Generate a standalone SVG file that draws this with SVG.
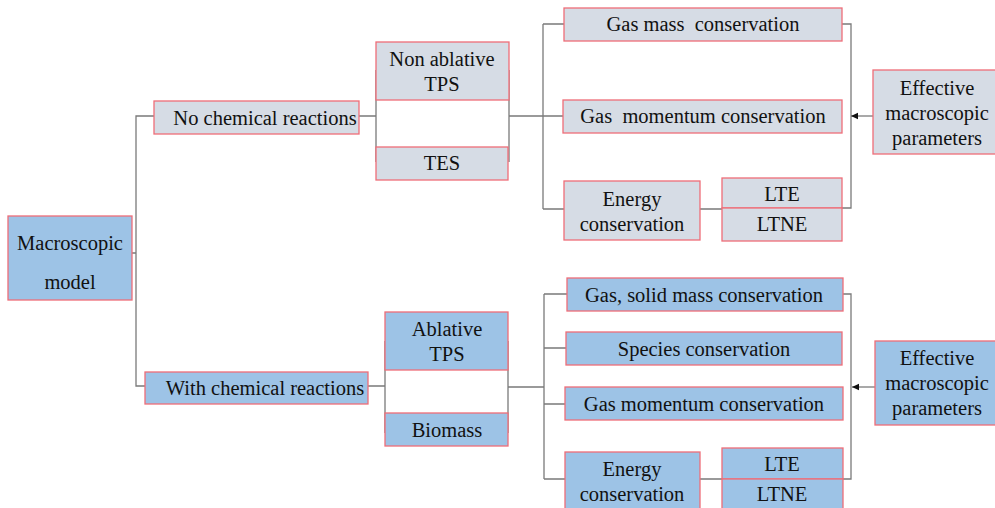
<svg xmlns="http://www.w3.org/2000/svg" width="995" height="508" viewBox="0 0 995 508" font-family="Liberation Serif, Times New Roman, serif">
<defs>
<style>
.g rect{fill:#d6dce5;stroke:#ef6d78;stroke-width:1.3}
.b rect{fill:#9dc3e6;stroke:#ef6d78;stroke-width:1.3}
text{font-size:20.5px;fill:#111;text-anchor:middle}
.c path{fill:none;stroke:#7a7a7a;stroke-width:1.3}
</style>
<marker id="ah" markerWidth="8" markerHeight="8" refX="7" refY="4" orient="auto" markerUnits="userSpaceOnUse">
<path d="M0,0.8 L7,4 L0,7.2 z" fill="#111"/>
</marker>
</defs>
<rect width="995" height="508" fill="#fff"/>
<g class="c">
<path d="M132,253 H136 V116 H154 M136,253 V386 H145"/>
<path d="M359,116 H376 M376,70 V162 M509,70 V162 M509,116 H543 M543,24 V209 M543,24 H564 M543,116 H563 M543,209 H564 M700,209 H722"/>
<path d="M842,24 H851 V208 H842"/>
<path d="M873,116 H851" marker-end="url(#ah)"/>
<path d="M368,386 H385 M385,341 V433 M508,341 V433 M508,387 H544 M544,294 V479 M544,294 H567 M544,348 H566 M544,404 H565 M544,479 H565 M700,479 H722"/>
<path d="M843,294 H851 V479 H843"/>
<path d="M875,387 H852" marker-end="url(#ah)"/>
</g>
<g id="macro" class="b"><rect x="8" y="216" width="124" height="84"/><text x="70" y="250">Macroscopic</text><text x="70" y="289">model</text></g>
<g id="nochem" class="g"><rect x="154" y="101" width="205" height="33"/><text x="265" y="125">No chemical reactions</text></g>
<g id="nonabl" class="g"><rect x="376" y="42" width="133" height="58"/><text x="442" y="66">Non ablative</text><text x="442" y="91">TPS</text></g>
<g id="tes" class="g"><rect x="376" y="147" width="132" height="33"/><text x="442" y="170">TES</text></g>
<g id="gasmass" class="g"><rect x="564" y="8" width="278" height="33"/><text x="703" y="31" xml:space="preserve">Gas mass  conservation</text></g>
<g id="gasmom1" class="g"><rect x="563" y="100" width="279" height="33"/><text x="703" y="123" xml:space="preserve">Gas  momentum conservation</text></g>
<g id="energy1" class="g"><rect x="564" y="181" width="136" height="59"/><text x="632" y="206">Energy</text><text x="632" y="231">conservation</text></g>
<g id="lte1" class="g"><rect x="722" y="178" width="120" height="30"/><text x="782" y="201">LTE</text></g>
<g id="ltne1" class="g"><rect x="722" y="208" width="120" height="33"/><text x="782" y="231">LTNE</text></g>
<g id="eff1" class="g"><rect x="873" y="70" width="125" height="84"/><text x="937" y="95">Effective</text><text x="937" y="120">macroscopic</text><text x="937" y="145">parameters</text></g>
<g id="withchem" class="b"><rect x="145" y="372" width="223" height="32"/><text x="265" y="395">With chemical reactions</text></g>
<g id="abl" class="b"><rect x="385" y="312" width="123" height="58"/><text x="447" y="336">Ablative</text><text x="447" y="361">TPS</text></g>
<g id="bio" class="b"><rect x="385" y="413" width="123" height="33"/><text x="447" y="437">Biomass</text></g>
<g id="gassolid" class="b"><rect x="567" y="278" width="276" height="33"/><text x="704" y="302">Gas, solid mass conservation</text></g>
<g id="species" class="b"><rect x="566" y="332" width="276" height="33"/><text x="704" y="356">Species conservation</text></g>
<g id="gasmom2" class="b"><rect x="565" y="387" width="278" height="33"/><text x="704" y="411">Gas momentum conservation</text></g>
<g id="energy2" class="b"><rect x="565" y="452" width="135" height="62"/><text x="632" y="476">Energy</text><text x="632" y="501">conservation</text></g>
<g id="lte2" class="b"><rect x="722" y="448" width="121" height="31"/><text x="782" y="471">LTE</text></g>
<g id="ltne2" class="b"><rect x="722" y="479" width="121" height="35"/><text x="782" y="501">LTNE</text></g>
<g id="eff2" class="b"><rect x="875" y="341" width="123" height="84"/><text x="937" y="365">Effective</text><text x="937" y="390">macroscopic</text><text x="937" y="415">parameters</text></g>
</svg>
